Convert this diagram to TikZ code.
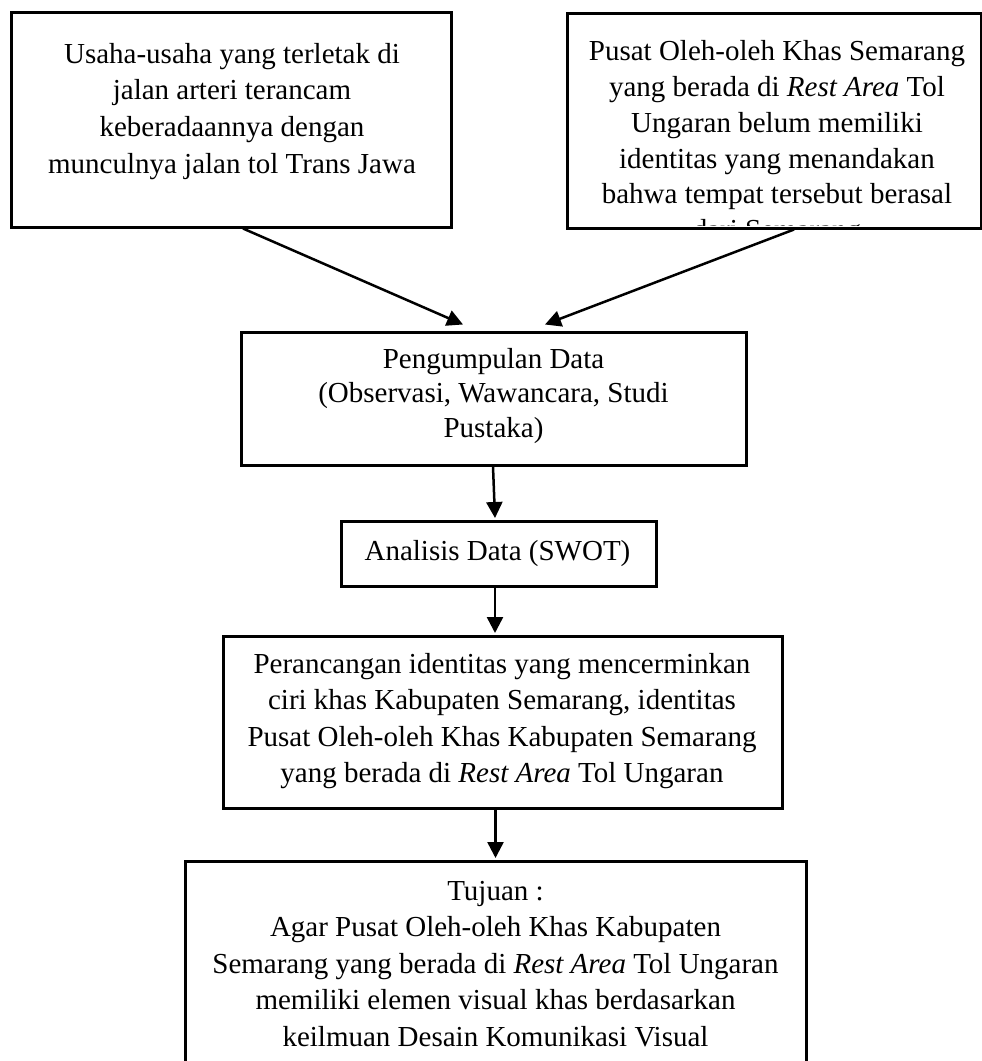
\documentclass[tikz,border=0pt]{standalone}
\usepackage{fontspec}
\setmainfont{Liberation Serif}
\usetikzlibrary{arrows.meta}
\begin{document}
\begin{tikzpicture}[x=1pt,y=-1pt,
  box/.style={draw, line width=3pt, rectangle, inner sep=0pt},
  txt/.style={inner sep=0pt, align=center, anchor=north},
  conn/.style={line width=2.5pt, -{Triangle[length=16pt,width=16pt]}}]
\useasboundingbox (0,0) rectangle (982,1061);
\clip (0,0) rectangle (982,1061);
% boxes
\node[box, minimum width=440pt, minimum height=215pt] (A) at (231,119.5) {};
\node[box, minimum width=505pt, minimum height=133pt] (C) at (493.5,398.5) {};
\node[box, minimum width=315pt, minimum height=65pt] (D) at (498.5,553.5) {};
\node[box, minimum width=559pt, minimum height=172pt] (E) at (502.5,722) {};
\node[box, minimum width=621pt, minimum height=219pt] (F) at (495.5,970.5) {};
% texts
\node[txt, font=\fontsize{29}{36.7}\selectfont] (At) at (232,37.3)
  {\strut Usaha-usaha yang terletak di\\jalan arteri terancam\\keberadaannya dengan\\munculnya jalan tol Trans Jawa};
\begin{scope}
\clip (567,13) rectangle (981,225);
\node[txt, font=\fontsize{29}{35.8}\selectfont] (Bt) at (777,35.4)
  {\strut Pusat Oleh-oleh Khas Semarang\\yang berada di \textit{Rest Area} Tol\\Ungaran belum memiliki\\identitas yang menandakan\\bahwa tempat tersebut berasal\\dari Semarang};
\end{scope}
\node[box, minimum width=414pt, minimum height=215pt] (B) at (774,120.5) {};
\node[txt, font=\fontsize{29}{34.5}\selectfont] (Ct) at (493.5,343.9)
  {\strut Pengumpulan Data\\(Observasi, Wawancara, Studi\\Pustaka)};
\node[txt, font=\fontsize{29}{36.5}\selectfont] (Dt) at (497.5,534.5)
  {\strut Analisis Data (SWOT)};
\node[txt, font=\fontsize{29}{36.5}\selectfont] (Et) at (502,647.5)
  {\strut Perancangan identitas yang mencerminkan\\ciri khas Kabupaten Semarang, identitas\\Pusat Oleh-oleh Khas Kabupaten Semarang\\yang berada di \textit{Rest Area} Tol Ungaran};
\node[txt, font=\fontsize{29}{36.5}\selectfont] (Ft) at (495.5,874.5)
  {\strut Tujuan :\\Agar Pusat Oleh-oleh Khas Kabupaten\\Semarang yang berada di \textit{Rest Area} Tol Ungaran\\memiliki elemen visual khas berdasarkan\\keilmuan Desain Komunikasi Visual};
% connectors
\draw[conn] ([xshift=12pt]A.south) -- ([xshift=-30.5pt,yshift=6pt]C.north);
\draw[conn] ([xshift=20pt]B.south) -- ([xshift=51.5pt,yshift=6pt]C.north);
\draw[conn] ([xshift=-0.5pt]C.south) -- ([xshift=-3.5pt,yshift=1.5pt]D.north);
\draw[conn] ([xshift=-3.5pt]D.south) -- ([xshift=-7.5pt,yshift=1.5pt]E.north);
\draw[conn] ([xshift=-7pt]E.south) -- ([yshift=1.5pt]F.north);
\end{tikzpicture}
\end{document}
